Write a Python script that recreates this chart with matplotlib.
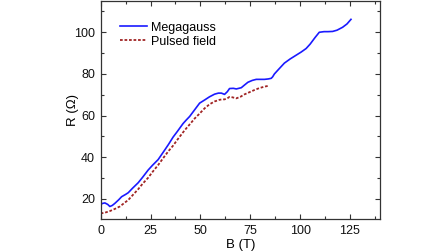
import matplotlib
matplotlib.use("Agg")
import matplotlib.pyplot as plt
from matplotlib.ticker import MultipleLocator

plt.rcParams['font.family'] = ['Liberation Sans', 'DejaVu Sans']

# Megagauss data (B in T, R in Ohm)
mg_B = [0, 1, 2.1, 3.5, 4.6, 5.8, 7.1, 9, 10.5, 12.5, 13.8, 16, 18.8, 21, 23.8, 26,
        28.8, 32.1, 34, 36.3, 38.5, 41.3, 43, 44.6, 47.1, 49.6, 52.1, 54.5, 57.1,
        59, 60.5, 62.1, 63.5, 64.6, 66.5, 68, 70.5, 72, 73.8, 76, 78, 80, 82.1,
        84, 85.5, 86.2, 87.1, 89, 92.1, 95, 98, 100.5, 103, 105, 107.5, 109.6,
        112, 114, 116.3, 118.5, 121.3, 123.5, 125.5]
mg_R = [17.4, 17.9, 18.1, 17.4, 16.4, 16.9, 17.9, 19.6, 21.1, 22.2, 23.0, 25.2, 27.8,
        30.4, 33.9, 36.2, 38.9, 43.5, 46.2, 49.7, 52.5, 56.2, 58.0, 59.6, 62.8,
        66.0, 67.5, 69.0, 70.3, 70.8, 70.8, 70.2, 71.5, 73.0, 73.1, 72.8, 73.4,
        74.6, 76.0, 76.9, 77.4, 77.4, 77.4, 77.6, 77.9, 78.6, 80.0, 82.0, 85.2,
        87.2, 89.0, 90.5, 92.2, 94.3, 97.5, 100.0, 100.3, 100.3, 100.4, 101.0,
        102.4, 104.0, 106.2]

# Pulsed field data
pf_B = [0, 2, 4.6, 7, 9.6, 12, 13.8, 16, 18.8, 21, 23.8, 26, 28.8, 32.1, 34, 36.3,
        38.5, 41.3, 43, 45, 47.1, 49.6, 52.1, 54.5, 57.1, 59.6, 61, 62.1, 63.5,
        64.6, 66, 68, 70, 72.1, 74.5, 77.1, 79.5, 82.1, 84.6]
pf_R = [13.1, 13.4, 14.2, 15.2, 16.4, 18.2, 19.5, 21.8, 24.7, 27.3, 30.2, 33.0,
        36.3, 40.6, 43.0, 45.6, 48.5, 52.0, 54.0, 56.2, 58.6, 61.0, 63.5, 65.4,
        66.8, 67.6, 67.8, 67.8, 68.3, 69.0, 68.8, 68.3, 69.0, 70.2, 71.2, 72.3,
        73.2, 73.9, 74.4]

fig = plt.figure(figsize=(4.48, 2.52), dpi=100)
ax = fig.add_axes([0.2248, 0.131, 0.6232, 0.865])

ax.plot(mg_B, mg_R, color='#1a1aff', lw=1.2, label='Megagauss')
ax.plot(pf_B, pf_R, color='#a02424', lw=1.3, linestyle=(0, (1.5, 1.0)), label='Pulsed field')

ax.set_xlim(0, 140)
ax.set_ylim(10.4, 115)
ax.xaxis.set_minor_locator(MultipleLocator(12.5))
ax.yaxis.set_minor_locator(MultipleLocator(10))
ax.set_xticks([0, 25, 50, 75, 100, 125])
ax.set_yticks([20, 40, 60, 80, 100])

ax.tick_params(which='both', direction='in', top=True, right=True,
               labelsize=9, colors='#333333', labelcolor='#111111', width=0.8)
ax.tick_params(which='major', length=3.5, pad=4)
ax.tick_params(which='minor', length=2)
for sp in ax.spines.values():
    sp.set_color('#333333')
    sp.set_linewidth(0.9)

ax.set_xlabel('B (T)', fontsize=9.5, labelpad=2)
ax.set_ylabel('R (Ω)', fontsize=9.5, labelpad=-3.5)

ax.legend(loc='upper left', bbox_to_anchor=(0.069, 0.905), frameon=False,
          fontsize=9, borderpad=0, borderaxespad=0, handlelength=2.2,
          handletextpad=0.3, labelspacing=0.15)

fig.savefig('out.png', dpi=100)
